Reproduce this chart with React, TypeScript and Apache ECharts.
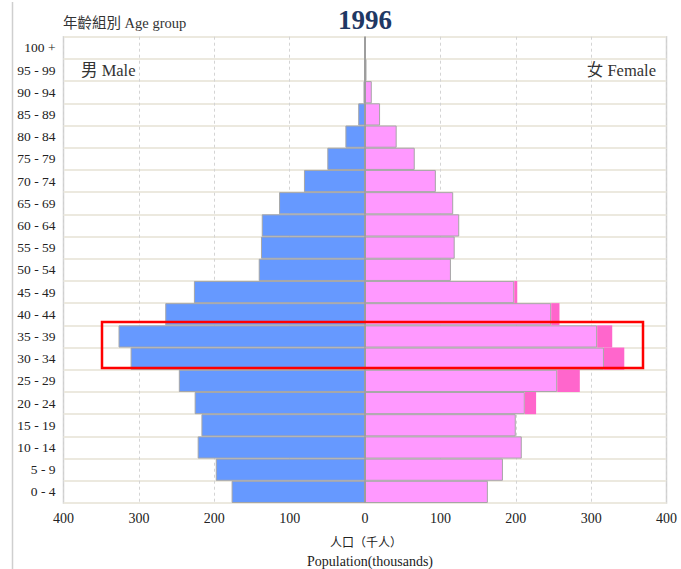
import React, { useEffect, useRef } from "react";
import * as echarts from "echarts";

const ageGroups = [
  "0 - 4", "5 - 9", "10 - 14", "15 - 19", "20 - 24", "25 - 29", "30 - 34",
  "35 - 39", "40 - 44", "45 - 49", "50 - 54", "55 - 59", "60 - 64", "65 - 69",
  "70 - 74", "75 - 79", "80 - 84", "85 - 89", "90 - 94", "95 - 99", "100 +",
];
const maleValues = [177, 198, 222, 217, 226, 247, 311, 327, 265, 227, 141, 138, 137, 114, 81, 50, 26, 9, 2, 0.5, 0.1];
const femaleValues = [163, 183, 208, 200, 212, 255, 317, 308, 247, 198, 114, 119, 125, 117, 94, 66, 42, 20, 9, 2, 0.3];
const femaleExtraValues = [0, 0, 0, 0, 15, 30, 27, 20, 11, 4, 0, 0, 0, 0, 0, 0, 0, 0, 0, 0, 0];
const xTicks = [-400, -300, -200, -100, 0, 100, 200, 300, 400];

const SERIF = "'Liberation Serif', 'Times New Roman', serif";
const CJK = "'Liberation Serif', 'Noto Sans CJK TC', serif";

export default function App() {
  const ref = useRef<HTMLDivElement>(null);
  useEffect(() => {
    if (!ref.current) return;
    const chart = echarts.init(ref.current, null, { renderer: "svg" });
    const barBorder = { borderColor: "#a6a6a6", borderWidth: 1 };
    chart.setOption({
      animation: false,
      backgroundColor: "#ffffff",
      grid: { left: 63.5, right: 14.5, top: 36.7, bottom: 66, show: true, borderColor: "#cfcfcf", borderWidth: 1.5 },
      xAxis: {
        type: "value",
        min: xTicks[0],
        max: xTicks[xTicks.length - 1],
        interval: 100,
        axisLine: { show: false },
        axisTick: { show: false },
        axisLabel: {
          formatter: (v: number) => String(Math.abs(v)),
          color: "#222",
          fontFamily: SERIF,
          fontSize: 14,
          margin: 8,
        },
        splitLine: { show: true, lineStyle: { color: "#d4d4d4", type: [3, 3], width: 1 } },
      },
      yAxis: {
        type: "category",
        data: ageGroups,
        axisLine: { show: false },
        axisTick: { show: false },
        axisLabel: { color: "#222", fontFamily: SERIF, fontSize: 13.5, margin: 8 },
        splitLine: { show: true, lineStyle: { color: "#ece9df", width: 2 } },
      },
      series: [
        {
          name: "Male",
          type: "bar",
          stack: "pop",
          barWidth: "100%",
          data: maleValues.map((v) => -v),
          itemStyle: { color: "#6699ff", ...barBorder },
          markLine: {
            silent: true,
            symbol: "none",
            label: { show: false },
            lineStyle: { color: "#9a9a9a", type: "solid", width: 1.5 },
            data: [{ xAxis: 0 }],
          },
        },
        {
          name: "Female",
          type: "bar",
          stack: "pop",
          barWidth: "100%",
          data: femaleValues,
          itemStyle: { color: "#ff99ff", ...barBorder },
        },
        {
          name: "Female extra",
          type: "bar",
          stack: "pop",
          barWidth: "100%",
          data: femaleExtraValues,
          itemStyle: { color: "#ff66cc", borderColor: "#ff66cc", borderWidth: 0 },
        },
      ],
      graphic: [
        { type: "line", shape: { x1: 12.5, y1: 2, x2: 12.5, y2: 569 }, style: { stroke: "#cfcfcf", lineWidth: 1.5 } },
        {
          type: "text", x: 365, y: 20,
          style: { text: "1996", font: `bold 27px ${SERIF}`, fill: "#1f3864", align: "center", verticalAlign: "middle" },
        },
        {
          type: "text", x: 63, y: 23,
          style: { text: "年齡組別 Age group", font: `14.5px ${CJK}`, fill: "#333", align: "left", verticalAlign: "middle" },
        },
        {
          type: "text", x: 81, y: 70,
          style: { text: "男 Male", font: `16.5px ${CJK}`, fill: "#333", align: "left", verticalAlign: "middle" },
        },
        {
          type: "text", x: 656, y: 70,
          style: { text: "女 Female", font: `16.5px ${CJK}`, fill: "#333", align: "right", verticalAlign: "middle" },
        },
        {
          type: "text", x: 366, y: 543,
          style: { text: "人口（千人）", font: `12px ${CJK}`, fill: "#222", align: "center", verticalAlign: "middle" },
        },
        {
          type: "text", x: 370, y: 561,
          style: { text: "Population(thousands)", font: `14px ${SERIF}`, fill: "#222", align: "center", verticalAlign: "middle" },
        },
        {
          type: "rect", shape: { x: 102, y: 322, width: 541, height: 46 },
          style: { fill: "none", stroke: "#ff0000", lineWidth: 2.5 },
          z: 100,
        },
      ],
    });
    return () => chart.dispose();
  }, []);
  return <div ref={ref} style={{ width: 681, height: 569, position: "absolute", left: 0, top: 0 }} />;
}
